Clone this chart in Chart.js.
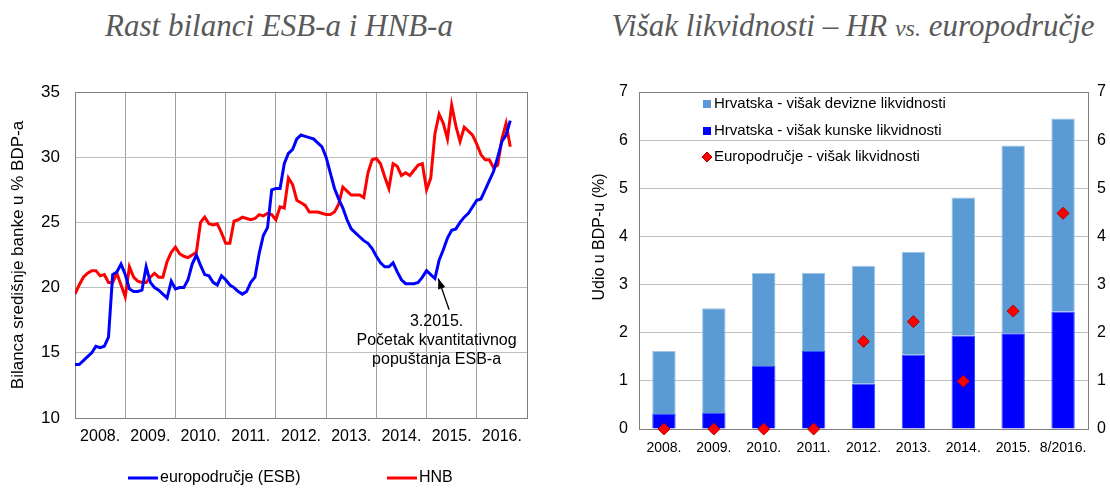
<!DOCTYPE html>
<html>
<head>
<meta charset="utf-8">
<script src="https://cdn.jsdelivr.net/npm/chart.js@4.4.0/dist/chart.umd.min.js"></script>
<style>
  body { margin: 0; background: #fff; width: 1110px; height: 489px; position: relative; overflow: hidden; }
  .title { position: absolute; top: 8px; font-family: 'Liberation Serif', 'Times New Roman', serif; font-style: italic; font-size: 31px; color: #595959; white-space: nowrap; transform: translateX(-50%); }
  .title small { font-size: 24px; }
  #left-wrap { position: absolute; left: 0; top: 60px; width: 560px; height: 429px; }
  #right-wrap { position: absolute; left: 575px; top: 60px; width: 535px; height: 429px; }
</style>
</head>
<body>
<div class="title" style="left:279px">Rast bilanci ESB-a i HNB-a</div>
<div class="title" style="left:853px">Višak likvidnosti – HR <small>vs.</small> europodručje</div>
<div id="left-wrap"><canvas id="balance-chart" width="560" height="429"></canvas></div>
<div id="right-wrap"><canvas id="liquidity-chart" width="535" height="429"></canvas></div>

<script>
// Left chart: central bank balance sheets, % of GDP, monthly from 1.2008
var yearLabels = ['2008.', '2009.', '2010.', '2011.', '2012.', '2013.', '2014.', '2015.', '2016.'];

var esb = [
  14.1, 14.1, 14.4, 14.7, 15.0, 15.5, 15.4, 15.5, 16.2, 21.0,
  21.2, 21.8, 21.0, 19.9, 19.7, 19.7, 19.8, 21.6, 20.4, 20.0,
  19.8, 19.5, 19.2, 20.5, 19.9, 20.0, 20.0, 20.6, 21.8, 22.5,
  21.7, 21.0, 20.9, 20.4, 20.2, 20.9, 20.6, 20.2, 20.0, 19.7,
  19.5, 19.7, 20.4, 20.8, 22.6, 24.0, 24.6, 27.5, 27.6, 27.6,
  29.5, 30.3, 30.6, 31.4, 31.7, 31.6, 31.5, 31.4, 31.1, 30.8,
  30.0, 28.8, 27.6, 26.8, 26.1, 25.2, 24.5, 24.2, 23.9, 23.6,
  23.4, 23.0, 22.4, 21.9, 21.6, 21.6, 21.9, 21.2, 20.6, 20.3,
  20.3, 20.3, 20.4, 20.8, 21.3, 21.0, 20.7, 22.1, 22.9, 23.8,
  24.4, 24.5, 25.0, 25.4, 25.7, 26.2, 26.7, 26.8, 27.5, 28.2,
  28.9, 30.0, 31.2, 31.7, 32.8
];

var hnb = [
  19.5, 20.2, 20.8, 21.1, 21.3, 21.3, 20.9, 21.0, 20.4, 20.4,
  21.1, 20.2, 19.3, 21.6, 20.8, 20.5, 20.4, 20.4, 20.8, 21.1,
  20.8, 20.8, 22.0, 22.7, 23.1, 22.6, 22.4, 22.3, 22.5, 22.7,
  25.0, 25.4, 24.9, 24.8, 24.9, 24.2, 23.4, 23.4, 25.1, 25.2,
  25.4, 25.3, 25.2, 25.3, 25.6, 25.5, 25.7, 25.6, 25.2, 26.2,
  26.1, 28.4, 27.9, 26.7, 26.5, 26.3, 25.8, 25.8, 25.8, 25.7,
  25.6, 25.6, 25.8, 26.4, 27.7, 27.4, 27.1, 27.1, 27.1, 26.9,
  28.8, 29.8, 29.9, 29.5, 28.5, 27.6, 29.5, 29.3, 28.6, 28.8,
  28.6, 29.0, 29.4, 29.5, 27.5, 28.4, 31.8, 33.3, 32.6, 31.4,
  34.0, 32.4, 31.2, 32.3, 32.0, 31.7, 31.0, 30.2, 29.8, 29.8,
  29.2, 29.4, 31.4, 32.6, 30.8
];

var qeNote = ['3.2015.', 'Početak kvantitativnog', 'popuštanja ESB-a'];

// Right chart: excess liquidity, % of GDP
var liqCategories = ['2008.', '2009.', '2010.', '2011.', '2012.', '2013.', '2014.', '2015.', '8/2016.'];
var hrKunska = [0.31, 0.33, 1.31, 1.62, 0.94, 1.54, 1.94, 1.99, 2.44];
var hrDevizna = [1.31, 2.18, 1.93, 1.62, 2.45, 2.14, 2.87, 3.90, 4.01];
var euroArea = [0.0, 0.0, 0.0, 0.0, 1.82, 2.23, 0.99, 2.45, 4.48];

var SANS = "'Liberation Sans', Arial, sans-serif";

function toPoints(values) {
  var pts = [];
  for (var i = 0; i < values.length; i++) {
    pts.push({ x: i, y: values[i] });
  }
  return pts;
}

// grey frame around the plot area
var framePlugin = {
  id: 'frame',
  beforeDatasetsDraw: function (chart) {
    var a = chart.chartArea, ctx = chart.ctx;
    ctx.save();
    ctx.strokeStyle = '#7f7f7f';
    ctx.lineWidth = 1;
    ctx.strokeRect(a.left + 0.5, a.top + 0.5, a.right - a.left, a.bottom - a.top);
    ctx.restore();
  }
};

// bottom legend with line samples
var lineLegendPlugin = {
  id: 'lineLegend',
  afterDraw: function (chart) {
    var ctx = chart.ctx;
    var xs = [128, 387];
    var y = 418;
    ctx.save();
    ctx.font = '16px ' + SANS;
    ctx.textBaseline = 'middle';
    chart.data.datasets.forEach(function (ds, i) {
      ctx.strokeStyle = ds.borderColor;
      ctx.lineWidth = 3;
      ctx.beginPath();
      ctx.moveTo(xs[i], y);
      ctx.lineTo(xs[i] + 30, y);
      ctx.stroke();
      ctx.fillStyle = '#000';
      ctx.fillText(ds.label, xs[i] + 32, y);
    });
    ctx.restore();
  }
};

// arrow + note for start of ECB QE
var notePlugin = {
  id: 'qeNote',
  afterDatasetsDraw: function (chart) {
    var x = chart.scales.x, y = chart.scales.y, ctx = chart.ctx;
    var tipX = x.getPixelForValue(86.8), tipY = y.getPixelForValue(20.7);
    var tailX = x.getPixelForValue(89.4), tailY = y.getPixelForValue(18.3);
    ctx.save();
    ctx.strokeStyle = '#000';
    ctx.fillStyle = '#000';
    ctx.lineWidth = 1.3;
    ctx.beginPath();
    ctx.moveTo(tailX, tailY);
    ctx.lineTo(tipX, tipY);
    ctx.stroke();
    var ang = Math.atan2(tipY - tailY, tipX - tailX);
    ctx.beginPath();
    ctx.moveTo(tipX, tipY);
    ctx.lineTo(tipX - 11 * Math.cos(ang - 0.35), tipY - 11 * Math.sin(ang - 0.35));
    ctx.lineTo(tipX - 11 * Math.cos(ang + 0.35), tipY - 11 * Math.sin(ang + 0.35));
    ctx.closePath();
    ctx.fill();
    ctx.font = '16px ' + SANS;
    ctx.textAlign = 'center';
    ctx.textBaseline = 'middle';
    var cx = x.getPixelForValue(86.4);
    var ys = [17.4, 15.9, 14.5];
    for (var i = 0; i < qeNote.length; i++) {
      ctx.fillText(qeNote[i], cx, y.getPixelForValue(ys[i]));
    }
    ctx.restore();
  }
};

var balanceChart = new Chart(document.getElementById('balance-chart'), {
  type: 'line',
  data: {
    datasets: [
      { label: 'europodručje (ESB)', data: toPoints(esb), borderColor: '#0000ff', borderWidth: 3, pointRadius: 0, tension: 0 },
      { label: 'HNB', data: toPoints(hnb), borderColor: '#ff0000', borderWidth: 3, pointRadius: 0, tension: 0 }
    ]
  },
  options: {
    responsive: false,
    animation: false,
    devicePixelRatio: 1,
    layout: { padding: { top: 32, right: 33, bottom: 31, left: 0 } },
    plugins: { legend: { display: false }, tooltip: { enabled: false } },
    scales: {
      x: {
        type: 'linear', min: 0, max: 108,
        border: { color: '#000' },
        grid: {
          drawTicks: false,
          color: function (ctx) { return ctx.tick && ctx.tick.value % 12 === 0 ? '#a0a0a0' : 'rgba(0,0,0,0)'; }
        },
        ticks: {
          stepSize: 6, autoSkip: false, maxRotation: 0, padding: 9, color: '#000',
          font: { size: 16, family: SANS },
          callback: function (v) { return v % 12 === 6 ? yearLabels[(v - 6) / 12] : ''; }
        },
        afterFit: function (s) { s.height = 40; }
      },
      y: {
        min: 10, max: 35,
        border: { color: '#000' },
        grid: { color: '#bdbdbd', drawTicks: false },
        ticks: { stepSize: 5, padding: 15, color: '#000', font: { size: 17, family: SANS } },
        title: { display: true, text: 'Bilanca središnje banke u % BDP-a', color: '#000', font: { size: 17, family: SANS }, padding: { top: 8, bottom: 0 } },
        afterFit: function (s) { s.width = 75; }
      }
    }
  },
  plugins: [framePlugin, lineLegendPlugin, notePlugin]
});

// legend inside plot + rotated y title
var boxLegendPlugin = {
  id: 'boxLegend',
  afterDraw: function (chart) {
    var ctx = chart.ctx;
    var order = [2, 1, 0];
    var rowsY = [44, 71, 97];
    ctx.save();
    ctx.font = '15px ' + SANS;
    ctx.textBaseline = 'middle';
    order.forEach(function (di, r) {
      var ds = chart.data.datasets[di];
      var y = rowsY[r];
      if (ds.type === 'line') {
        ctx.fillStyle = ds.backgroundColor;
        ctx.strokeStyle = ds.borderColor;
        ctx.beginPath();
        ctx.moveTo(132, y - 5);
        ctx.lineTo(137, y);
        ctx.lineTo(132, y + 5);
        ctx.lineTo(127, y);
        ctx.closePath();
        ctx.fill();
        ctx.stroke();
      } else {
        ctx.fillStyle = ds.backgroundColor;
        ctx.fillRect(128, y - 4, 8, 8);
      }
      ctx.fillStyle = '#000';
      ctx.fillText(ds.label, 139, y);
    });
    ctx.translate(25, 177);
    ctx.rotate(-Math.PI / 2);
    ctx.textAlign = 'center';
    ctx.font = '16px ' + SANS;
    ctx.fillText('Udio u BDP-u (%)', 0, 0);
    ctx.restore();
  }
};

var liquidityChart = new Chart(document.getElementById('liquidity-chart'), {
  type: 'bar',
  data: {
    labels: liqCategories,
    datasets: [
      { type: 'line', label: 'Europodručje - višak likvidnosti', data: euroArea, yAxisID: 'y2', showLine: false,
        pointStyle: 'rectRot', pointRadius: 6, backgroundColor: '#ff0000', borderColor: '#b00000', borderWidth: 1, clip: false },
      { label: 'Hrvatska - višak kunske likvidnosti', data: hrKunska, backgroundColor: '#0000ff', borderColor: '#3355ff', borderWidth: 1, stack: 'hr' },
      { label: 'Hrvatska - višak devizne likvidnosti', data: hrDevizna, backgroundColor: '#5b9bd5', borderColor: '#9dc3e6', borderWidth: 1, stack: 'hr' }
    ]
  },
  options: {
    responsive: false,
    animation: false,
    devicePixelRatio: 1,
    layout: { padding: { top: 32, right: 0, bottom: 20, left: 0 } },
    datasets: { bar: { barPercentage: 0.47, categoryPercentage: 1 } },
    plugins: { legend: { display: false }, tooltip: { enabled: false } },
    scales: {
      x: {
        stacked: true,
        border: { color: '#7f7f7f' },
        grid: { display: false, drawTicks: false },
        ticks: { padding: 11, color: '#000', font: { size: 14, family: SANS }, maxRotation: 0, autoSkip: false },
        afterFit: function (s) { s.height = 40; }
      },
      y: {
        stacked: true, min: 0, max: 7,
        border: { color: '#000' },
        grid: { color: '#bfbfbf', drawTicks: false },
        ticks: { stepSize: 1, padding: 11, color: '#000', font: { size: 16, family: SANS } },
        afterFit: function (s) { s.width = 64; }
      },
      y2: {
        position: 'right', min: 0, max: 7,
        border: { color: '#7f7f7f' },
        grid: { display: false, drawTicks: false },
        ticks: { stepSize: 1, padding: 9, color: '#000', font: { size: 16, family: SANS } },
        afterFit: function (s) { s.width = 22; }
      }
    }
  },
  plugins: [framePlugin, boxLegendPlugin]
});
</script>
</body>
</html>
